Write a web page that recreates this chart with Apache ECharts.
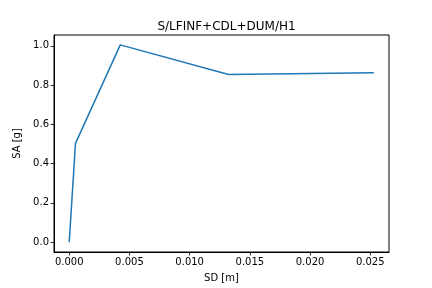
<!DOCTYPE html>
<html>
<head>
<meta charset="utf-8">
<script src="https://cdn.jsdelivr.net/npm/echarts@6/dist/echarts.min.js"></script>
<style>html,body{margin:0;padding:0;background:#fff;}#c{width:432px;height:288px;}</style>
</head>
<body>
<div id="c"></div>
<script>
var titleText = "S/LFINF+CDL+DUM/H1";
var sd = [0.0, 0.00052, 0.00424, 0.01323, 0.02529];
var sa = [0.0, 0.503, 1.005, 0.854, 0.863];
var xTicks = [0.000, 0.005, 0.010, 0.015, 0.020, 0.025];
var yTicks = [0.0, 0.2, 0.4, 0.6, 0.8, 1.0];

var font = "DejaVu Sans";
var chart = echarts.init(document.getElementById('c'), null, {renderer: 'canvas'});
var data = sd.map(function (x, i) { return [x, sa[i]]; });
var xr = sd[sd.length - 1] - sd[0];
var yr = Math.max.apply(null, sa) - Math.min.apply(null, sa);
chart.setOption({
  animation: false,
  backgroundColor: '#ffffff',
  title: {
    text: titleText, left: 221.5, top: 16, textAlign: 'center',
    textStyle: {fontFamily: font, fontSize: 12, fontWeight: 'normal', color: '#000'}
  },
  grid: {left: 54, right: 43, top: 35, bottom: 36, show: true, borderColor: '#000', borderWidth: 1, backgroundColor: 'transparent'},
  xAxis: {
    type: 'value',
    min: sd[0] - 0.05 * xr, max: sd[sd.length - 1] + 0.05 * xr,
    name: 'SD [m]', nameLocation: 'middle', nameGap: 21,
    nameTextStyle: {fontFamily: font, fontSize: 10, color: '#000'},
    axisLine: {show: true, onZero: false, lineStyle: {color: '#000', width: 1}},
    axisTick: {show: true, length: 3.5, inside: false, customValues: xTicks, lineStyle: {color: '#000', width: 0.8}},
    axisLabel: {customValues: xTicks, margin: 5, fontFamily: font, fontSize: 10, color: '#000',
      formatter: function (v) { return v.toFixed(3); }},
    splitLine: {show: false}
  },
  yAxis: {
    type: 'value',
    min: 0 - 0.05 * yr, max: Math.max.apply(null, sa) + 0.05 * yr,
    name: 'SA [g]', nameLocation: 'middle', nameGap: 26, nameRotate: 90,
    nameTextStyle: {fontFamily: font, fontSize: 10, color: '#000'},
    axisLine: {show: true, onZero: false, lineStyle: {color: '#000', width: 1}},
    axisTick: {show: true, length: 3.5, inside: false, customValues: yTicks, lineStyle: {color: '#000', width: 0.8}},
    axisLabel: {customValues: yTicks, margin: 5, fontFamily: font, fontSize: 10, color: '#000',
      formatter: function (v) { return v.toFixed(1); }},
    splitLine: {show: false}
  },
  series: [{
    type: 'line', data: data, showSymbol: false, symbol: 'none',
    lineStyle: {color: '#1f77b4', width: 1.5}, itemStyle: {color: '#1f77b4'}
  }]
});
</script>
</body>
</html>
